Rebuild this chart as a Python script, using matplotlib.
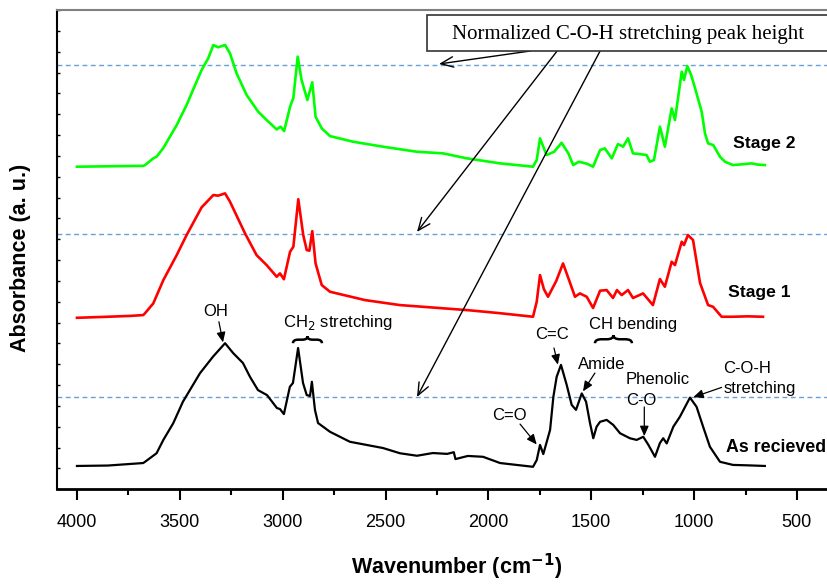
import matplotlib
matplotlib.use("Agg")
import matplotlib.pyplot as plt
from matplotlib.path import Path
from matplotlib.patches import PathPatch, Rectangle
from matplotlib.ticker import MultipleLocator

# FTIR spectra, stacked (absorbance in a.u. incl. offset)
wn_stage2 = [4000, 3850, 3678, 3669, 3629, 3613, 3580, 3515, 3467, 3436, 3394, 3362, 3337, 3314,
             3280, 3256, 3224, 3175, 3119, 3078, 3029, 3010, 2993, 2964, 2948, 2927, 2908,
             2880, 2856, 2840, 2810, 2770, 2658, 2512, 2349, 2220, 2104, 1943, 1783, 1765,
             1749, 1717, 1680, 1644, 1610, 1588, 1560, 1520, 1491, 1457, 1434, 1400, 1370,
             1345, 1321, 1297, 1260, 1231, 1215, 1195, 1166, 1142, 1109, 1093, 1060, 1049,
             1033, 1015, 995, 963, 947, 932, 907, 874, 850, 811, 760, 720, 690, 656]
abs_stage2 = [15.48, 15.50, 15.52, 15.56, 15.88, 15.96, 16.38, 17.48, 18.44, 19.16, 20.12,
              20.68, 21.32, 21.21, 21.32, 20.92, 19.96, 18.92, 18.12, 17.72, 17.27, 17.40,
              17.19, 18.36, 18.78, 20.76, 19.64, 18.68, 19.53, 17.88, 17.32, 16.95, 16.68,
              16.44, 16.20, 16.12, 15.88, 15.64, 15.48, 15.80, 16.84, 16.04, 16.20, 16.63,
              16.10, 15.56, 15.72, 15.62, 15.48, 16.28, 16.36, 15.88, 16.57, 16.44, 16.84,
              16.12, 16.08, 16.04, 15.72, 15.80, 17.40, 16.44, 18.28, 17.72, 20.04, 19.64,
              20.31, 19.90, 19.24, 18.12, 17.08, 16.60, 16.52, 15.96, 15.72, 15.56, 15.60,
              15.64, 15.58, 15.56]

wn_stage1 = [4000, 3850, 3742, 3678, 3669, 3629, 3580, 3515, 3467, 3394, 3337, 3314, 3280,
             3256, 3183, 3127, 3078, 3029, 3013, 2994, 2964, 2948, 2924, 2900, 2883, 2870,
             2856, 2840, 2810, 2770, 2600, 2430, 2104, 1943, 1783, 1765, 1749, 1730, 1710,
             1670, 1637, 1610, 1579, 1555, 1522, 1491, 1457, 1425, 1394, 1375, 1352, 1321,
             1297, 1248, 1200, 1166, 1142, 1109, 1093, 1060, 1049, 1030, 1005, 971, 932, 908,
             866, 811, 740, 665]
abs_stage1 = [8.23, 8.28, 8.32, 8.36, 8.45, 8.92, 10.04, 11.24, 12.20, 13.53, 14.12, 14.09,
              14.20, 13.80, 12.28, 11.24, 10.76, 10.20, 10.36, 10.08, 11.40, 11.64, 13.92,
              12.20, 11.48, 11.45, 12.39, 10.84, 9.80, 9.48, 9.08, 8.84, 8.60, 8.45, 8.28,
              9.00, 10.28, 9.60, 9.24, 10.00, 10.84, 10.10, 9.24, 9.40, 9.24, 8.70, 9.53, 9.56,
              9.18, 9.56, 9.32, 9.56, 9.18, 9.40, 8.84, 10.09, 9.72, 10.92, 10.76, 11.88,
              11.72, 12.20, 11.96, 9.90, 8.84, 8.76, 8.28, 8.28, 8.30, 8.28]

wn_received = [4000, 3850, 3678, 3669, 3613, 3580, 3532, 3485, 3402, 3339, 3280, 3241, 3193,
               3159, 3120, 3076, 3028, 3013, 2994, 2965, 2950, 2925, 2901, 2883, 2867, 2858,
               2843, 2828, 2770, 2673, 2512, 2430, 2347, 2270, 2200, 2168, 2160, 2100, 2026,
               1943, 1783, 1765, 1749, 1733, 1700, 1684, 1668, 1647, 1619, 1595, 1574, 1546,
               1525, 1506, 1490, 1474, 1457, 1425, 1393, 1360, 1312, 1279, 1247, 1222, 1190,
               1166, 1150, 1133, 1101, 1069, 1020, 988, 956, 923, 874, 811, 740, 656]
abs_received = [1.12, 1.14, 1.26, 1.32, 1.73, 2.37, 3.17, 4.20, 5.57, 6.36, 7.01, 6.54, 6.06,
                5.40, 4.76, 4.52, 3.90, 3.85, 3.61, 4.92, 5.10, 6.78, 5.10, 4.52, 4.48, 5.16,
                3.81, 3.18, 2.76, 2.28, 1.98, 1.73, 1.61, 1.74, 1.70, 1.78, 1.45, 1.60, 1.56,
                1.26, 1.08, 1.40, 2.13, 1.69, 2.85, 4.44, 5.40, 5.97, 5.00, 4.05, 3.81, 4.60,
                4.20, 3.18, 2.45, 3.00, 3.24, 3.33, 3.09, 2.69, 2.45, 2.37, 2.52, 2.13, 1.56,
                2.22, 2.45, 2.20, 3.00, 3.48, 4.40, 3.96, 3.00, 2.04, 1.32, 1.17, 1.15, 1.12]

# normalized C-O-H peak heights (dashed guides)
norm_levels = [20.36, 12.25, 4.43]

x_major = [4000, 3500, 3000, 2500, 2000, 1500, 1000, 500]

plt.rcParams['font.family'] = ['Liberation Sans', 'DejaVu Sans']

fig = plt.figure(figsize=(8.28, 5.85), dpi=100)
ax = fig.add_axes([57/828, 95.7/585, 800/828, 479.3/585])

for lev in norm_levels:
    ax.axhline(lev, color='#6a9fd6', lw=1.0, dashes=(3.5, 2.5), zorder=1)

ax.plot(wn_stage2, abs_stage2, color='#00ff00', lw=1.9, zorder=3)
ax.plot(wn_stage1, abs_stage1, color='#ff0000', lw=1.9, zorder=3)
ax.plot(wn_received, abs_received, color='black', lw=1.6, zorder=3)

ax.set_xlim(4097, 208)
ax.set_ylim(0, 23)
ax.set_xticks(x_major)
ax.xaxis.set_minor_locator(MultipleLocator(250))
ax.yaxis.set_major_locator(MultipleLocator(1))
ax.set_yticklabels([])
ax.tick_params(axis='x', which='major', direction='out', length=8, width=1.5, labelsize=13, pad=10)
ax.tick_params(axis='x', which='minor', direction='out', length=4, width=1.5)
ax.tick_params(axis='y', which='major', direction='in', length=2.5, width=1.0)
ax.spines['right'].set_visible(False)
ax.spines['top'].set_color('#808080')
ax.spines['top'].set_linewidth(1.5)
ax.spines['left'].set_linewidth(1.5)
ax.spines['bottom'].set_linewidth(2.0)

ax.set_xlabel('Wavenumber (cm$^{\\mathbf{-1}}$)', fontsize=15.5, fontweight='bold', labelpad=15)
fig.text(20.7/828, 1 - 258/585, 'Absorbance (a. u.)', rotation=90, fontsize=15.5,
         fontweight='bold', ha='center', va='center')

# spectrum labels
ax.text(810, 16.36, 'Stage 2', fontsize=12.6, fontweight='bold', va='baseline')
ax.text(834, 9.24, 'Stage 1', fontsize=12.6, fontweight='bold', va='baseline')
ax.text(845, 1.80, 'As recieved', fontsize=12.8, fontweight='bold', va='baseline')

# band annotations
fs = 12
ax.text(3324, 8.33, 'OH', fontsize=fs, ha='center', va='baseline')
ax.text(2999, 7.80, 'CH$_2$ stretching', fontsize=fs, ha='left', va='baseline')
ax.text(1693, 7.22, 'C=C', fontsize=fs, ha='center', va='baseline')
ax.text(1295, 7.68, 'CH bending', fontsize=fs, ha='center', va='baseline')
ax.text(1449, 5.76, 'Amide', fontsize=fs, ha='center', va='baseline')
ax.text(1331, 5.05, 'Phenolic', fontsize=fs, ha='left', va='baseline')
ax.text(1331, 4.05, 'C-O', fontsize=fs, ha='left', va='baseline')
ax.text(858, 5.57, 'C-O-H', fontsize=fs, ha='left', va='baseline')
ax.text(858, 4.61, 'stretching', fontsize=fs, ha='left', va='baseline')
ax.text(1897, 3.33, 'C=O', fontsize=fs, ha='center', va='baseline')

small = dict(arrowstyle='-|>,head_length=0.5,head_width=0.22', color='black', lw=0.9,
             mutation_scale=12, shrinkA=0, shrinkB=0)
for tail, head in [((3310, 8.04), (3290, 7.05)),
                   ((1681, 6.78), (1662, 5.98)),
                   ((1482, 5.58), (1540, 4.70)),
                   ((1242, 3.95), (1242, 2.55)),
                   ((866, 4.89), (1004, 4.42)),
                   ((1846, 3.13), (1765, 2.15))]:
    ax.annotate('', xy=head, xytext=tail, arrowprops=small)


def brace(x0, x1, ybot, ymid, ytip):
    xm = (x0 + x1) / 2
    r = (x1 - x0) * 0.18
    verts = [(x0, ybot), (x0, ymid), (x0 + r, ymid), (xm - r, ymid), (xm, ymid), (xm, ytip),
             (xm, ymid), (xm + r, ymid), (x1 - r, ymid), (x1, ymid), (x1, ybot)]
    codes = [Path.MOVETO, Path.CURVE3, Path.CURVE3, Path.LINETO, Path.CURVE3, Path.CURVE3,
             Path.CURVE3, Path.CURVE3, Path.LINETO, Path.CURVE3, Path.CURVE3]
    ax.add_patch(PathPatch(Path(verts, codes), fc='none', ec='black', lw=1.8, zorder=4))


brace(2950, 2809, 7.01, 7.18, 7.34)
brace(1482, 1302, 7.01, 7.20, 7.40)

# normalization call-out box and arrows
big = dict(arrowstyle='->,head_length=0.6,head_width=0.25', color='black', lw=1.0,
           mutation_scale=15, shrinkA=0, shrinkB=0)
for tail, head in [((1798, 21.03), (2240, 20.41)),
                   ((1666, 21.03), (2347, 12.35)),
                   ((1457, 21.03), (2347, 4.43))]:
    ax.annotate('', xy=head, xytext=tail, arrowprops=big, zorder=5)

fig.patches.append(Rectangle((427/828, 1 - 51/585), 0.6, 36/585, transform=fig.transFigure,
                             fc='white', ec='#333333', lw=1.2, zorder=6))
fig.text(628/828, 1 - 34/585, 'Normalized C-O-H stretching peak height', fontsize=15,
         family=['Liberation Serif', 'DejaVu Serif'], ha='center', va='center', zorder=7)

fig.savefig('out.png', dpi=100)
